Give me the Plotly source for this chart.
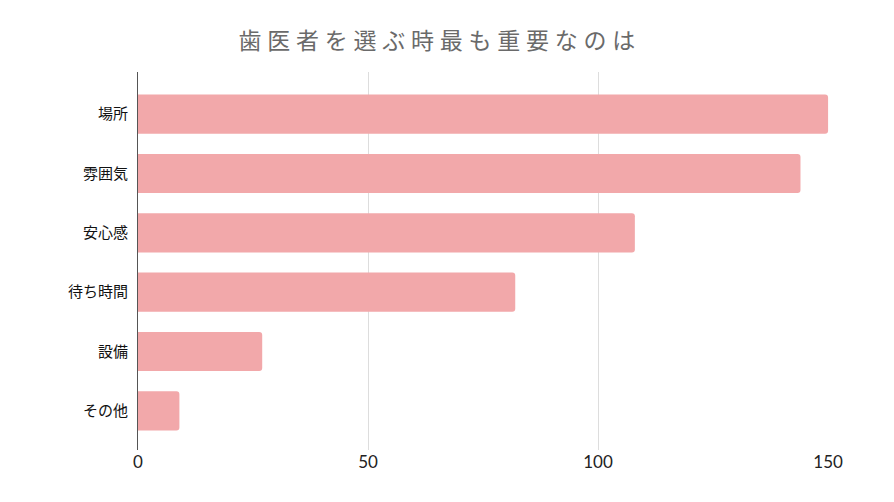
import plotly.graph_objects as go

categories = ["場所", "雰囲気", "安心感", "待ち時間", "設備", "その他"]
values = [150, 144, 108, 82, 27, 9]
x_ticks = [0, 50, 100, 150]
title_text = "歯医者を選ぶ時最も重要なのは"

BAR_COLOR = "#F2A8AA"
FONT = "Noto Sans CJK JP"

# the page body adds an 8px margin, so the figure is drawn 8px smaller
fig = go.Figure()
fig.add_trace(go.Bar(
    x=values,
    y=categories,
    orientation="h",
    width=0.66,
    marker=dict(color=BAR_COLOR, line=dict(width=0), cornerradius=3),
    hoverinfo="x+y",
))

# wide letter spacing on the title
spaced_title = "\u2005".join(title_text)

fig.update_layout(
    width=886, height=494,
    margin=dict(l=130, r=65, t=64, b=52),
    paper_bgcolor="white",
    plot_bgcolor="white",
    showlegend=False,
    title=dict(
        text=spaced_title,
        x=0.484, xref="container", xanchor="center",
        y=0.933, yref="container", yanchor="middle",
        font=dict(family=FONT, size=23, color="#6a6a6a"),
    ),
    font=dict(family=FONT),
)

fig.update_xaxes(
    range=[0, 150.2],
    tickvals=x_ticks,
    ticktext=[str(t) for t in x_ticks],
    showgrid=True, gridcolor="#dddddd", gridwidth=1,
    zeroline=False,
    showline=False,
    ticks="",
    tickfont=dict(family="Lato, Noto Sans", size=17, color="#222222"),
)

fig.update_yaxes(
    categoryorder="array",
    categoryarray=categories,
    autorange=False,
    range=[5.66, -0.71],
    showgrid=False,
    showline=True, linecolor="#555555", linewidth=1,
    zeroline=False,
    ticks="",
    ticklabelstandoff=6,
    tickfont=dict(family=FONT, size=15, color="#111111"),
)

fig.write_html("out.html")
